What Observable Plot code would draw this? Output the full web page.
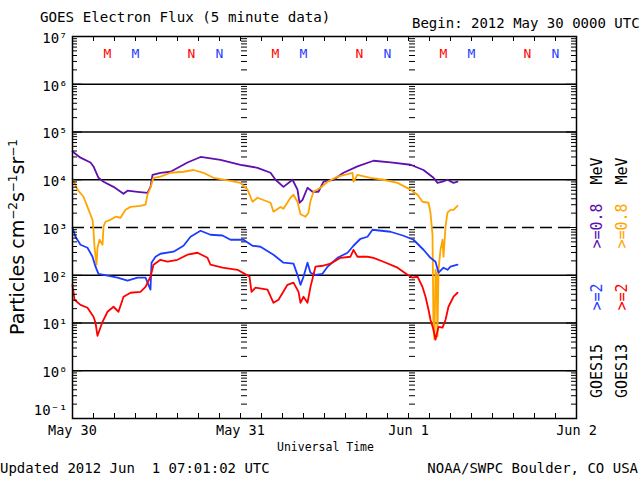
<!DOCTYPE html>
<html><head><meta charset="utf-8">
<script src="https://cdn.jsdelivr.net/npm/d3@7"></script>
<script src="https://cdn.jsdelivr.net/npm/@observablehq/plot@0.6"></script>
<style>
body{margin:0;background:#fff;}
#wrap{position:relative;width:640px;height:480px;overflow:hidden;font-family:"DejaVu Sans Mono",monospace;color:#000;}
#chart{position:absolute;left:0;top:0;}
.t{position:absolute;white-space:pre;line-height:1;}
.r{position:absolute;white-space:pre;line-height:1;text-align:center;transform:rotate(-90deg);}
</style></head>
<body><div id="wrap">
<div id="chart"></div>
<div class="t" style="left:40px;top:10px;font-size:14.2px">GOES Electron Flux (5 minute data)</div>
<div class="t" style="left:412px;top:16px;font-size:14px">Begin: 2012 May 30 0000 UTC</div>
<div class="t" style="left:277px;top:442px;font-size:11.5px">Universal Time</div>
<div class="t" style="left:0px;top:461px;font-size:14px">Updated 2012 Jun  1 07:01:02 UTC</div>
<div class="t" style="right:2px;top:461px;font-size:14px">NOAA/SWPC Boulder, CO USA</div>
<div class="r" style="left:-102px;top:226px;width:240px;height:22px;font-family:'DejaVu Sans',sans-serif;font-size:19px">Particles cm<sup style="font-size:12px">−2</sup>s<sup style="font-size:12px">−1</sup>sr<sup style="font-size:12px">−1</sup></div>
<div class="r" style="left:558px;top:363px;width:80px;height:16px;font-size:15px">GOES15</div>
<div class="r" style="left:558px;top:289px;width:80px;height:16px;font-size:15px;color:#1e3cff">&gt;=2</div>
<div class="r" style="left:558px;top:218px;width:80px;height:16px;font-size:15px;color:#6010b0">&gt;=0.8</div>
<div class="r" style="left:558px;top:163px;width:80px;height:16px;font-size:15px">MeV</div>
<div class="r" style="left:583px;top:363px;width:80px;height:16px;font-size:15px">GOES13</div>
<div class="r" style="left:583px;top:289px;width:80px;height:16px;font-size:15px;color:#ff0000">&gt;=2</div>
<div class="r" style="left:583px;top:218px;width:80px;height:16px;font-size:15px;color:#ffa500">&gt;=0.8</div>
<div class="r" style="left:583px;top:163px;width:80px;height:16px;font-size:15px">MeV</div>
</div>
<script>
// ---- data (hours after 2012-05-30 00:00 UTC, flux in particles cm^-2 s^-1 sr^-1) ----
const g15e08Hours = [0,1.14,2.57,3,3.71,4.43,5.86,7.29,7.86,9.29,10.71,11.14,11.43,12.57,14,16.43,18.29,21.14,24,26.43,28.29,29,30.14,31.43,32.14,32.43,32.86,33.57,34.29,35.14,35.86,37.29,38.71,40.71,43,45.43,48.29,50.14,51.57,52.14,52.86,53.57,54.43,55];
const g15e08Flux  = [3.9e4,2.9e4,2.3e4,1.9e4,1.1e4,9.1e3,7.1e3,5.1e3,5.9e3,5.6e3,5.3e3,7.1e3,1.27e4,1.4e4,1.47e4,2.3e4,3.0e4,2.6e4,2.06e4,1.78e4,1.4e4,1.0e4,7.1e3,1.0e4,6.2e3,3.3e3,3.8e3,6.8e3,5.6e3,5.6e3,9.1e3,1.0e4,1.4e4,1.9e4,2.5e4,2.3e4,2.06e4,1.6e4,1.1e4,8.6e3,9.1e3,1.0e4,8.6e3,9.1e3];

const g13e08Hours = [0,0.71,1.57,2.14,2.57,2.86,3,3.14,3.43,3.57,3.86,4.29,4.43,4.71,5.43,6.14,6.86,7.57,8.29,9.71,10.43,10.71,11.14,11.57,12.57,14,15.86,17.29,18.71,20.14,22.57,24,25,25.71,26.43,28.29,28.71,29.71,30.14,31.14,31.57,32.14,32.57,33.29,33.71,34,34.43,35.43,36.43,37.86,40,40.14,40.71,42.57,44.43,46.43,48.29,49.29,50,50.86,51.14,51.43,51.57,51.71,51.86,52,52.14,52.29,52.57,52.86,53,53.29,53.57,54,54.43,55];
const g13e08Flux  = [1.05e4,6.2e3,4.4e3,2.7e3,1.85e3,1.45e3,900,395,166,377,554,435,1040,1320,1450,1680,1600,2350,2700,2850,3000,4850,6800,1.1e4,1.16e4,1.4e4,1.47e4,1.6e4,1.4e4,1.1e4,9.5e3,8.6e3,6.2e3,3.46e3,4.2e3,3.3e3,2.14e3,2.7e3,2.47e3,4.2e3,4.85e3,3.46e3,1.9e3,1.68e3,2.04e3,3.6e3,5.6e3,6.8e3,9.1e3,1.16e4,1.4e4,9.1e3,1.27e4,1.1e4,1.0e4,8.6e3,6.2e3,4.85e3,3.46e3,3.3e3,2.04e3,700,7.2,4.5,130,100,5.2,130,342,554,244,1040,2040,2350,2350,2850];

const g15e2Hours = [0,0.43,1.14,2.14,2.86,3.29,3.71,5,6.43,7.86,9.29,10.43,10.86,11.14,11.29,11.86,12.57,14.43,15.86,16.86,18.29,19.71,21.43,22.57,24.43,25.71,26.86,28.71,30.14,31.57,32.14,32.57,33,33.57,34,34.71,35.71,36.43,37.86,39.29,40.14,41.14,42.14,42.86,45.43,47.29,48.71,50.14,51.14,51.86,52.29,53,53.57,54,55];
const g15e2Flux  = [988,640,435,377,244,151,107,98,89,77,89,89,63,50,183,244,282,311,415,640,855,705,680,554,554,415,395,269,183,175,102,63,93,183,113,102,107,151,232,296,415,581,640,897,815,672,554,342,232,192,113,144,130,151,166];

const g13e2Hours = [0,0.29,1.14,2.14,3,3.29,3.57,4.29,5,5.86,6.57,7.29,8.29,9.71,10.43,11.14,11.57,12.57,13.57,15,16.43,17.86,19.29,19.71,21.43,23.57,24.86,25.29,25.57,26.14,27.86,28.71,29.43,30.71,31.57,32.29,32.57,33,33.57,34,34.71,35.71,36.86,38.29,39.71,40.14,40.71,42.14,43,44.43,46.43,47.86,48.57,49.29,50,50.43,50.86,51.14,51.57,51.86,52.29,52.86,53.29,53.71,54.43,55];
const g13e2Flux  = [63,30.7,24,20.9,13.5,10.1,5.4,10.6,17.2,21.9,17.2,35.5,43,45,57,93,166,211,192,211,269,296,232,166,144,130,102,93,45,55,50,26.5,30.7,63,70,45,26.5,35.5,26.5,57,151,158,175,232,244,340,244,244,232,192,144,102,89,93,57,35.5,18.9,11.7,7.2,4.5,8.3,8.0,11.7,21.9,35.5,43];

const seriesNames  = ["GOES15 >=0.8 MeV","GOES13 >=0.8 MeV","GOES15 >=2 MeV","GOES13 >=2 MeV"];
const seriesColors = ["#6010b0","#ffa500","#1e3cff","#ff0000"];

// local midnight (M) / noon (N) markers
const mnHours  = [5,9,17,21,29,33,41,45,53,57,65,69];
const mnLetter = ["M","M","N","N","M","M","N","N","M","M","N","N"];
const mnSat    = ["GOES13","GOES15","GOES13","GOES15","GOES13","GOES15","GOES13","GOES15","GOES13","GOES15","GOES13","GOES15"];
const satColor = {GOES13:"#ff0000", GOES15:"#1e3cff"};

const yTickValues = [1e-1,1e0,1e1,1e2,1e3,1e4,1e5,1e6,1e7];
const yTickLabels = ["10⁻¹","10⁰","10¹","10²","10³","10⁴","10⁵","10⁶","10⁷"];
const xTickHours  = [0,24,48,72];
const xTickLabels = ["May 30","May 31","Jun 1","Jun 2"];

// ---- build ----
const t0 = Date.UTC(2012, 4, 30);
const toDate = h => new Date(t0 + h * 3600e3);
const hourSets = [g15e08Hours, g13e08Hours, g15e2Hours, g13e2Hours];
const fluxSets = [g15e08Flux, g13e08Flux, g15e2Flux, g13e2Flux];
const rows = [];
hourSets.forEach((hs, s) => hs.forEach((h, i) => rows.push({time: toDate(h), flux: fluxSets[s][i], series: seriesNames[s]})));

const allLog = d3.scaleLog().domain([1e-1, 1e7]).ticks();
const minorY = allLog.filter(v => !yTickValues.some(d => Math.abs(d - v) / d < 1e-9));
const grid = yTickValues.filter(v => v !== 1e3 && v !== 1e7 && v !== 1e-1);
const threeHour = d3.range(0, 73, 3).map(toDate);
const dayTicks = xTickHours.map(toDate);
const mnRows = mnHours.map((h, i) => ({time: toDate(h), letter: mnLetter[i], sat: mnSat[i]}));
const yLabelRows = yTickValues.map((v, i) => ({v, label: yTickLabels[i]}));

const W = 640 - 72 - 64, H = 480 - 36 - 62;
const chart = Plot.plot({
  width: 640, height: 480,
  marginLeft: 72, marginRight: 64, marginTop: 36, marginBottom: 62,
  style: {fontFamily: "DejaVu Sans Mono, monospace", fontSize: "14px", background: "transparent", overflow: "visible"},
  x: {type: "utc", domain: [toDate(0), toDate(72)], axis: null},
  y: {type: "log", domain: [1e-1, 1e7], axis: null},
  color: {domain: seriesNames, range: seriesColors},
  marks: [
    Plot.ruleY(grid, {stroke: "black", strokeWidth: 1.5}),
    Plot.ruleY([1e3], {stroke: "black", strokeWidth: 1.5, strokeDasharray: "12,6"}),
    // day-boundary minor tick columns
    Plot.ruleY(minorY, {stroke: "black", insetLeft: 169, insetRight: W - 175}),
    Plot.ruleY(minorY, {stroke: "black", insetLeft: 337, insetRight: W - 343}),
    Plot.line(rows, {x: "time", y: "flux", z: "series", stroke: "series", strokeWidth: 1.8}),
    Plot.frame({stroke: "black", strokeWidth: 1.5}),
    // left/right axis ticks (inward)
    Plot.ruleY(yTickValues, {stroke: "black", insetRight: W - 10}),
    Plot.ruleY(minorY, {stroke: "black", insetRight: W - 5}),
    Plot.ruleY(yTickValues, {stroke: "black", insetLeft: W - 10}),
    Plot.ruleY(minorY, {stroke: "black", insetLeft: W - 5}),
    // top/bottom time ticks
    Plot.ruleX(threeHour, {stroke: "black", insetTop: H - 5}),
    Plot.ruleX(threeHour, {stroke: "black", insetBottom: H - 5}),
    Plot.text(yLabelRows.filter(d => d.v > 0.5), {y: "v", text: "label", frameAnchor: "left", textAnchor: "end", dx: -5, dy: 2, fontSize: 14}),
    Plot.text(yLabelRows.filter(d => d.v < 0.5), {y: "v", text: "label", frameAnchor: "left", textAnchor: "end", dx: -5, dy: -8, fontSize: 14}),
    Plot.text(dayTicks, {x: d => d, text: (d, i) => xTickLabels[i], frameAnchor: "bottom", dy: 16, fontSize: 13.5}),
    Plot.text(mnRows, {x: "time", text: "letter", fill: d => satColor[d.sat], frameAnchor: "top", dy: 12, fontSize: 13})
  ]
});
document.getElementById("chart").appendChild(chart);
</script>
</body></html>
